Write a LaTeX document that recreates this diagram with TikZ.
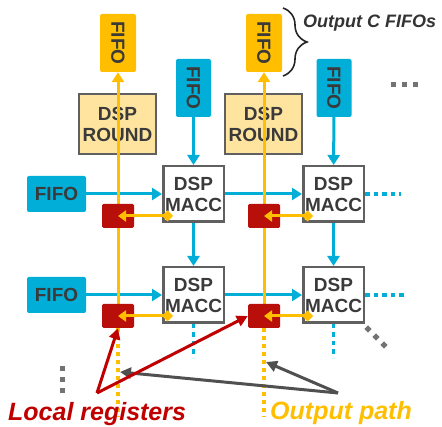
\documentclass[tikz,border=0pt]{standalone}
\usepackage{fontspec}
\setmainfont{Liberation Sans}
\usetikzlibrary{arrows.meta,decorations.pathreplacing,calc}
\definecolor{cOr}{RGB}{255,190,0}
\definecolor{cBl}{RGB}{0,174,216}
\definecolor{cRd}{RGB}{192,0,0}
\definecolor{cReg}{RGB}{185,15,10}
\definecolor{cRnd}{RGB}{255,228,160}
\definecolor{cTx}{RGB}{58,58,58}
\definecolor{cBd}{RGB}{96,96,96}
\definecolor{cGy}{RGB}{80,80,80}
\definecolor{cDot}{RGB}{115,115,115}
\tikzset{
  lbl/.style={font=\bfseries\fontsize{19}{21}\selectfont, text=cTx, align=center},
  fifoO/.style={fill=cOr, rounded corners=2pt, minimum width=36pt, minimum height=58pt, inner sep=0pt},
  fifoB/.style={fill=cBl, rounded corners=2pt, minimum width=35pt, minimum height=58pt, inner sep=0pt},
  fifoH/.style={lbl, fill=cBl, rounded corners=2pt, minimum width=59pt, minimum height=36pt, inner sep=0pt},
  vtxt/.style={lbl, rotate=-90, inner sep=0pt},
  macc/.style={lbl, draw=cBd, line width=2.5pt, fill=white, minimum width=60.5pt, minimum height=55.5pt, inner sep=0pt},
  rnd/.style={lbl, draw=cBd, line width=2pt, fill=cRnd, minimum width=77pt, minimum height=60pt, inner sep=0pt},
  reg/.style={fill=cReg, rounded corners=1.5pt, minimum width=32pt, minimum height=24pt, inner sep=0pt},
  oline/.style={draw=cOr, line width=3pt},
  bline/.style={draw=cBl, line width=3pt},
  otip/.style={-{Triangle[length=10pt,width=12pt]}},
  odia/.style={{Triangle[length=8pt,width=11pt]}-{Diamond[length=11pt,width=11pt]}},
  odot/.style={draw=cOr, line width=4pt, dash pattern=on 4pt off 4pt},
  bdot/.style={draw=cBl, line width=3.5pt, dash pattern=on 4.5pt off 4pt},
  callR/.style={draw=cRd, line width=3pt, -{Triangle[length=11pt,width=11pt]}},
  callG/.style={draw=cGy, line width=3pt, -{Triangle[length=11pt,width=11pt]}},
  gdot/.style={fill=cDot},
}
\begin{document}
\begin{tikzpicture}[x=1pt,y=-1pt]
\useasboundingbox (0,0) rectangle (442,427);
% output FIFOs
\node[fifoO] (oa) at (118,43) {};
\node[vtxt] (oat) at (oa) {FIFO};
\node[fifoO] (ob) at (264,43) {};
\node[vtxt] (obt) at (ob) {FIFO};
% top input FIFOs
\node[fifoB] (ta) at (193.5,88) {};
\node[vtxt] (tat) at (ta) {FIFO};
\node[fifoB] (tb) at (334,88) {};
\node[vtxt] (tbt) at (tb) {FIFO};
% DSP ROUND
\node[rnd] (ra) at (117.5,124) {DSP\\ROUND};
\node[rnd] (rb) at (263.5,124) {DSP\\ROUND};
% left FIFOs
\node[fifoH] (la) at (56.5,194) {FIFO};
\node[fifoH] (lb) at (56.5,295) {FIFO};
% MACC
\node[macc] (m11) at (193.5,194) {DSP\\MACC};
\node[macc] (m12) at (333.5,194) {DSP\\MACC};
\node[macc] (m21) at (193.5,295) {DSP\\MACC};
\node[macc] (m22) at (333.5,295) {DSP\\MACC};
% blue connections
\draw[bline,otip] (ta) -- (m11);
\draw[bline,otip] (tb) -- (m12);
\draw[bline,otip] (m11) -- (m21);
\draw[bline,otip] (m12) -- (m22);
\draw[bline,otip] (la) -- (m11);
\draw[bline,otip] (lb) -- (m21);
\draw[bline,otip] (m11) -- (m12);
\draw[bline,otip] (m21) -- (m22);
\coordinate (d1) at (401,194);
\coordinate (d2) at (404,295);
\coordinate (d3) at (193.5,358);
\coordinate (d4) at (333.5,358);
\draw[bdot] (m12.east) -- (d1);
\draw[bdot] (m22.east) -- (d2);
\draw[bdot] (m21.south) -- (d3);
\draw[bdot] (m22.south) -- (d4);
% registers
\coordinate (ga) at (118,304);
\coordinate (gb) at (264,304);
\draw[oline,otip] (ga) -- (oa.south);
\draw[oline,otip] (gb) -- (ob.south);
\node[reg] (g11) at (118,216) {};
\node[reg] (g12) at (264,216) {};
\node[reg] (g21) at (118,316) {};
\node[reg] (g22) at (264,316) {};
\draw[oline,odia] (g11.center) -- ($(m11.west |- g11.center)+(11,0)$);
\draw[oline,odia] (g12.center) -- ($(m12.west |- g12.center)+(11,0)$);
\draw[oline,odia] (g21.center) -- ($(m21.west |- g21.center)+(11,0)$);
\draw[oline,odia] (g22.center) -- ($(m22.west |- g22.center)+(11,0)$);
% output path dotted
\coordinate (e1) at (118,417);
\coordinate (e2) at (264,417);
\draw[odot] (g21.south) -- (e1);
\draw[odot] (g22.south) -- (e2);
% brace
\draw[decorate, decoration={brace, amplitude=24pt}, line width=1.6pt, black!85] (283,8) -- (283,76);
\node[font=\bfseries\itshape\fontsize{18}{18}\selectfont, text=black!80, anchor=base west, inner sep=0pt] (oc) at (303,28) {Output C FIFOs};
% ellipsis dots
\foreach \x in {393,404,415} \fill[gdot] (\x-2.5,82.5) rectangle (\x+2.5,87.5);
\foreach \y in {369,380,391} \fill[gdot] (59.5,\y-2.5) rectangle (64.5,\y+2.5);
\foreach \p in {0,1,2} \fill[gdot, rotate around={45:(368+8*\p,329+8*\p)}] (365.5+8*\p,326.5+8*\p) rectangle (370.5+8*\p,331.5+8*\p);
% callouts
\coordinate (apR) at (97,393);
\coordinate (apG) at (338,393);
\coordinate (p1) at (120,372);
\coordinate (p2) at (266,362);
\draw[callG] (apG) -- (p1);
\draw[callG] (apG) -- (p2);
\draw[callR] (apR) -- (g21.south);
\draw[callR] (apR) -- (g22.west);
\node[font=\bfseries\itshape\fontsize{25}{24}\selectfont, text=cRd, anchor=base west, inner sep=0pt] (lr) at (8,421) {Local registers};
\node[font=\bfseries\itshape\fontsize{25}{24}\selectfont, text=cOr, anchor=base west, inner sep=0pt] (opt) at (270,420) {Output path};
\end{tikzpicture}
\end{document}
